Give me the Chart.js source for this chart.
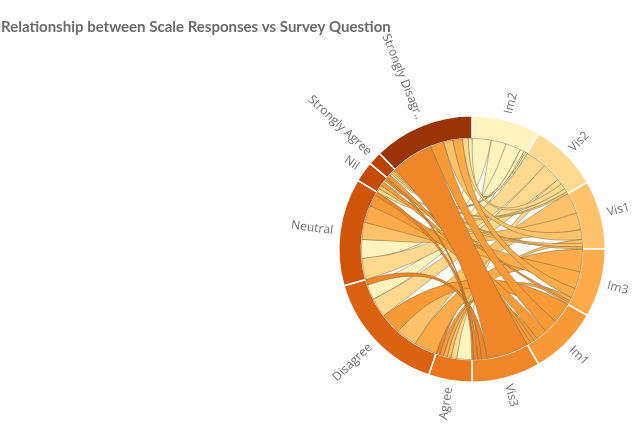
<!DOCTYPE html>
<html>
<head>
<meta charset="utf-8">
<script src="https://cdn.jsdelivr.net/npm/chart.js@4.4.0/dist/chart.umd.min.js"></script>
<style>
html, body { margin: 0; padding: 0; background: #fff; }
#wrap { width: 640px; height: 432px; position: relative; }
</style>
</head>
<body>
<div id="wrap"><canvas id="canvas"></canvas></div>
<script>
var title = 'Relationship between Scale Responses vs Survey Question';

var questions = ['Im2', 'Vis2', 'Vis1', 'Im3', 'Im1', 'Vis3'];
var responses = ['Agree', 'Disagree', 'Neutral', 'Nil', 'Strongly Agree', 'Strongly Disagree'];
var responseLabels = ['Agree', 'Disagree', 'Neutral', 'Nil', 'Strongly Agree', 'Strongly Disagr..'];

// answers per question, same order as questions
var agree = [8, 3, 2, 2, 2, 2];
var disagree = [8, 10, 11, 12, 11, 3];
var neutral = [10, 11, 9, 9, 6, 2];
var nil = [1, 2, 2, 1, 2, 1];
var stronglyAgree = [1, 1, 1, 1, 2, 0];
var stronglyDisagree = [2, 3, 5, 5, 7, 22];

var questionColors = ['#fff3c0', '#fed98f', '#fec26b', '#fdab4b', '#f99a38', '#f0862a'];
var responseColors = ['#e8761d', '#dc6213', '#d0550b', '#c44b06', '#b84305', '#9a3404'];

var counts = [agree, disagree, neutral, nil, stronglyAgree, stronglyDisagree];

function sum(arr) {
    return arr.reduce(function(a, b) { return a + b; }, 0);
}

var groupLabels = questions.concat(responseLabels);
var groupColors = questionColors.concat(responseColors);
var groupTotals = questions.map(function(q, j) {
    return sum(counts.map(function(row) { return row[j]; }));
}).concat(counts.map(sum));

// split every ring segment into sub-ranges, biggest first (clockwise)
function layoutChords(arcs) {
    var qRange = counts.map(function() { return []; });
    var rRange = counts.map(function() { return []; });

    questions.forEach(function(q, j) {
        var arc = arcs[j];
        var items = counts.map(function(row, r) { return { r: r, v: row[j] }; });
        items.sort(function(a, b) { return b.v - a.v; });
        var k = (arc.endAngle - arc.startAngle) / groupTotals[j];
        var a = arc.startAngle;
        items.forEach(function(it) {
            qRange[it.r][j] = [a, a + it.v * k];
            a += it.v * k;
        });
    });

    responses.forEach(function(name, r) {
        var arc = arcs[questions.length + r];
        var items = counts[r].map(function(v, j) { return { j: j, v: v }; });
        items.sort(function(a, b) { return b.v - a.v; });
        var k = (arc.endAngle - arc.startAngle) / groupTotals[questions.length + r];
        var a = arc.startAngle;
        items.forEach(function(it) {
            rRange[r][it.j] = [a, a + it.v * k];
            a += it.v * k;
        });
    });

    return { q: qRange, r: rRange };
}

var chordPlugin = {
    id: 'chords',
    afterDatasetsDraw: function(chart) {
        var arcs = chart.getDatasetMeta(0).data;
        var ctx = chart.ctx;
        var cx = arcs[0].x, cy = arcs[0].y, rad = arcs[0].innerRadius;
        var ranges = layoutChords(arcs);

        ctx.save();
        ctx.lineWidth = 0.8;
        ctx.strokeStyle = 'rgba(125, 100, 50, 0.6)';
        counts.forEach(function(row, r) {
            row.forEach(function(v, j) {
                if (!v) return;
                var s = ranges.r[r][j];
                var t = ranges.q[r][j];
                ctx.beginPath();
                ctx.moveTo(cx + rad * Math.cos(s[0]), cy + rad * Math.sin(s[0]));
                ctx.arc(cx, cy, rad, s[0], s[1]);
                ctx.quadraticCurveTo(cx, cy, cx + rad * Math.cos(t[0]), cy + rad * Math.sin(t[0]));
                ctx.arc(cx, cy, rad, t[0], t[1]);
                ctx.quadraticCurveTo(cx, cy, cx + rad * Math.cos(s[0]), cy + rad * Math.sin(s[0]));
                ctx.closePath();
                ctx.fillStyle = questionColors[j];
                ctx.fill();
                ctx.stroke();
            });
        });
        ctx.restore();
    },
    afterDraw: function(chart) {
        var ctx = chart.ctx;
        var arcs = chart.getDatasetMeta(0).data;

        ctx.save();
        ctx.fillStyle = '#6b6b6b';
        ctx.font = 'bold 15px Lato';
        ctx.textBaseline = 'alphabetic';
        ctx.textAlign = 'left';
        ctx.fillText(title, 1, 32);

        // labels along the radius, outside the ring
        ctx.font = '12px "Open Sans"';
        ctx.fillStyle = '#6f6f6f';
        ctx.textBaseline = 'middle';
        arcs.forEach(function(arc, i) {
            var mid = (arc.startAngle + arc.endAngle) / 2;
            var r = arc.outerRadius + 7;
            ctx.save();
            ctx.translate(arc.x + r * Math.cos(mid), arc.y + r * Math.sin(mid));
            if (mid + Math.PI / 2 < Math.PI) {
                ctx.rotate(mid);
                ctx.textAlign = 'left';
            } else {
                ctx.rotate(mid + Math.PI);
                ctx.textAlign = 'right';
            }
            ctx.fillText(groupLabels[i], 0, 0);
            ctx.restore();
        });
        ctx.restore();
    }
};

var ctx = document.getElementById('canvas').getContext('2d');
var chart = new Chart(ctx, {
    type: 'doughnut',
    data: {
        labels: groupLabels,
        datasets: [{
            data: groupTotals,
            backgroundColor: groupColors,
            borderColor: '#ffffff',
            borderWidth: 1.5,
            hoverOffset: 0,
        }]
    },
    options: {
        responsive: true,
        maintainAspectRatio: false,
        animation: false,
        cutout: '83%',
        layout: {
            padding: { left: 338, right: 34, top: 66, bottom: 0 }
        },
        plugins: {
            legend: { display: false },
            tooltip: { enabled: false },
        },
        events: [],
    },
    plugins: [chordPlugin]
});
</script>
</body>
</html>
